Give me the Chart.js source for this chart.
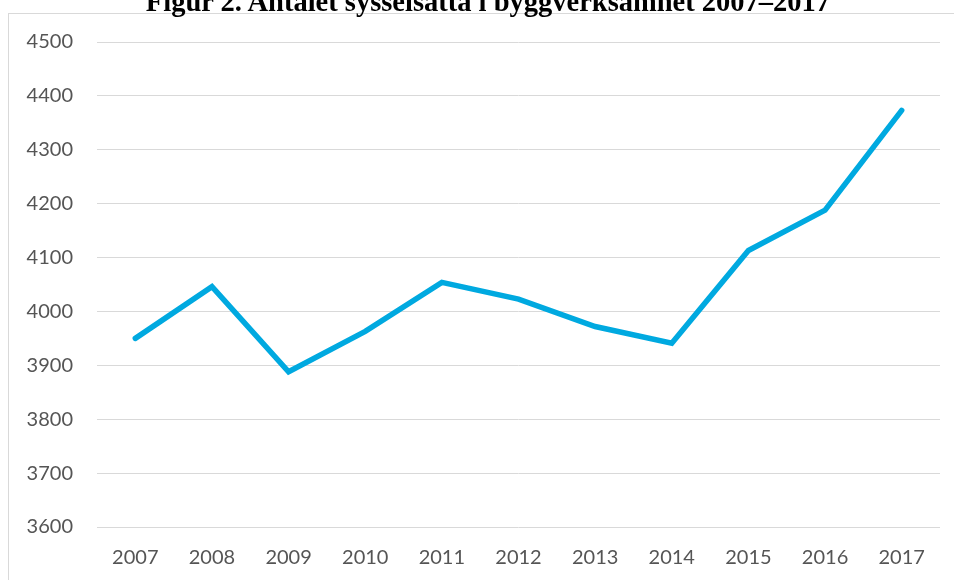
<!DOCTYPE html>
<html lang="sv">
<head>
<meta charset="utf-8">
<title>Figur 2</title>
<script src="https://cdn.jsdelivr.net/npm/chart.js@4"></script>
<style>
  html, body { margin: 0; padding: 0; background: #fff; overflow: hidden; }
  body { width: 954px; height: 580px; position: relative; }
  #frame {
    position: absolute; left: 8px; top: 13px; width: 960px; height: 580px;
    border-left: 1px solid #d9d9d9; border-top: 1px solid #d9d9d9;
  }
  #title {
    position: absolute; left: 0; width: 976px; top: -12px;
    text-align: center; font: bold 28.5px "Liberation Serif", serif;
    line-height: 28.5px; color: #000; white-space: nowrap;
  }
  #wrap { position: absolute; left: 0; top: 0; width: 954px; height: 580px; }
</style>
</head>
<body>
<div id="frame"></div>
<div id="wrap"><canvas id="chart" width="954" height="580"></canvas></div>
<div id="title">Figur 2. Antalet sysselsatta i byggverksamhet 2007–2017</div>
<script>
const years = ["2007", "2008", "2009", "2010", "2011", "2012", "2013", "2014", "2015", "2016", "2017"];
const employed = [3950, 4046, 3888, 3963, 4054, 4023, 3972, 3941, 4113, 4188, 4373];
const yMin = 3600;
const yMax = 4500;
const yStep = 100;

const labelFont = { family: "Lato, 'Open Sans', sans-serif", size: 20 };
const labelColor = "#555555";
const gridColor = "#d9d9d9";

new Chart(document.getElementById("chart"), {
  type: "line",
  data: {
    labels: years,
    datasets: [
      {
        label: "Sysselsatta",
        data: employed,
        borderColor: "#00a9e0",
        backgroundColor: "#00a9e0",
        borderWidth: 5.5,
        borderCapStyle: "round",
        pointRadius: 0,
        tension: 0,
        fill: false,
      },
    ],
  },
  options: {
    responsive: false,
    animation: false,
    layout: { padding: { top: 42, right: 14, left: 0, bottom: 0 } },
    plugins: {
      legend: { display: false },
      tooltip: { enabled: false },
    },
    scales: {
      x: {
        offset: true,
        grid: { display: false, drawTicks: false },
        border: { display: false },
        ticks: { font: labelFont, color: labelColor, padding: 19, maxRotation: 0 },
        afterFit: (scale) => { scale.height = 53; },
      },
      y: {
        min: yMin,
        max: yMax,
        grid: { color: gridColor, lineWidth: 1, drawTicks: false },
        border: { display: false },
        ticks: {
          stepSize: yStep,
          font: labelFont,
          color: labelColor,
          padding: 24,
          callback: (v) => String(v),
        },
        afterFit: (scale) => { scale.width = 97; },
      },
    },
  },
});
</script>
</body>
</html>
